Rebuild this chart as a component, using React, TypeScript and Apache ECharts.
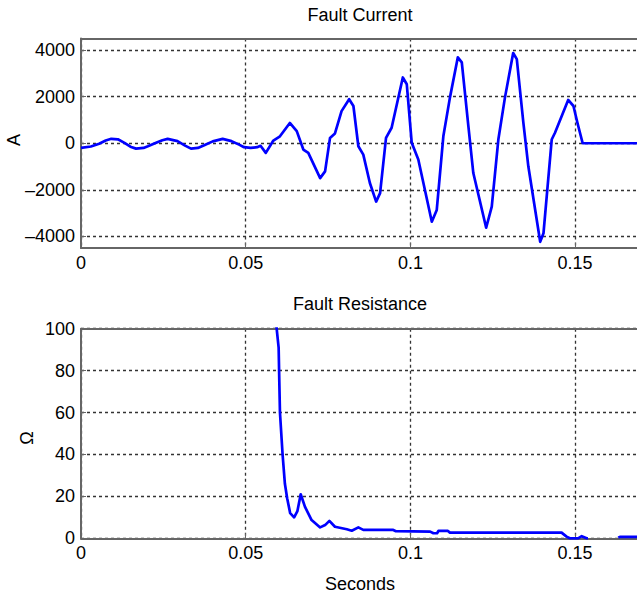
import React, { useEffect, useRef } from 'react';
import * as echarts from 'echarts';

// Tick positions
const timeTicks = [0, 0.05, 0.1, 0.15];
const currentTicks = [-4000, -2000, 0, 2000, 4000];
const resistanceTicks = [0, 20, 40, 60, 80, 100];

// Fault current (A) over time (s)
const currentTime = [
  0.0, 0.003, 0.0055, 0.0075, 0.0092, 0.0112, 0.0132, 0.015, 0.0167, 0.019,
  0.0203, 0.0228, 0.0247, 0.0263, 0.0293, 0.0316, 0.0334, 0.0355, 0.0374, 0.04,
  0.043, 0.0457, 0.048, 0.0495, 0.0515, 0.0535, 0.0545, 0.0561, 0.0584, 0.0604,
  0.0634, 0.0655, 0.0675, 0.069, 0.0726, 0.0741, 0.0756, 0.0771, 0.0791, 0.0814,
  0.0827, 0.0842, 0.0857, 0.0877, 0.0896, 0.0908, 0.0926, 0.0943, 0.0977, 0.0989,
  0.1004, 0.1024, 0.1065, 0.108, 0.11, 0.112, 0.1144, 0.1156, 0.1176, 0.1191,
  0.123, 0.1247, 0.1267, 0.1287, 0.1312, 0.1323, 0.1343, 0.1358, 0.1394, 0.1404,
  0.1429, 0.1439, 0.1479, 0.1495, 0.1507, 0.1523, 0.17,
];
const currentAmps = [
  -200, -140, -20, 120, 190, 170, 17, -150, -230, -200,
  -130, 17, 130, 190, 90, -100, -230, -200, -90, 80,
  190, 90, -60, -170, -200, -170, -110, -415, 117, 300,
  870, 520, -270, -415, -1500, -1210, 230, 420, 1380, 1890,
  1600, -130, -490, -1710, -2505, -2140, 233, 665, 2825, 2535,
  17, -700, -3370, -2865, 300, 1960, 3690, 3475, 735, -1280,
  -3630, -2720, 160, 1960, 3875, 3615, 880, -990, -4235, -3870,
  160, 450, 1860, 1600, 880, 0, 0,
];

// Fault resistance (Ω) over time (s); null marks samples with no value
const resistanceTime = [
  0.0588, 0.0594, 0.06, 0.0602, 0.0604, 0.0612, 0.0619, 0.0626, 0.0635, 0.0647,
  0.0657, 0.0667, 0.068, 0.07, 0.0726, 0.0741, 0.0754, 0.0771, 0.0807, 0.0822,
  0.0842, 0.0857, 0.0948, 0.0956, 0.106, 0.107, 0.1081, 0.1085, 0.1114, 0.112,
  0.1459, 0.1474, 0.1484, 0.1509, 0.152, 0.1535, 0.1539, 0.154, 0.1631, 0.1636,
  0.17,
];
const resistanceOhms = [
  125, 100, 91, 75, 60, 40, 26, 19, 12, 10,
  13, 21, 15, 8.7, 5.2, 6.3, 8.3, 5.5, 4.3, 3.6,
  5.2, 4.0, 4.0, 3.4, 3.2, 2.4, 2.4, 3.5, 3.5, 2.7,
  2.7, 0.8, 0, 0, 1.0, 0, 0, null, 0.3, 0.7,
  0.7,
];

const FONT = '"Liberation Sans", Arial, Helvetica, sans-serif';
const FONT_SIZE = 18;
const FRAME = '#666666';
const GRIDLINE = '#333333';
const TRACE = '#0000ff';

const fmtNum = (v: number) => {
  const r = +v.toFixed(4);
  return r < 0 ? '\u2013' + Math.abs(r) : String(r);
};

const pairs = (xs: number[], ys: (number | null)[]) => xs.map((x, i) => [x, ys[i]]);

export default function App() {
  const ref = useRef<HTMLDivElement>(null);

  useEffect(() => {
    if (!ref.current) return;
    const chart = echarts.init(ref.current, undefined, { renderer: 'svg' });

    const frameLine = { show: true, onZero: false, lineStyle: { color: FRAME, width: 2 } };
    const dashed = { show: true, lineStyle: { color: GRIDLINE, width: 1.3, type: [3, 3] as number[] } };
    const label = { color: '#000', fontFamily: FONT, fontSize: FONT_SIZE };

    const xMain = (gridIndex: number) => ({
      type: 'value',
      gridIndex,
      min: 0,
      max: 0.2,
      axisLine: frameLine,
      axisTick: { show: true, inside: true, length: 5, customValues: timeTicks, lineStyle: { color: FRAME } },
      axisLabel: { ...label, margin: 6, customValues: timeTicks, formatter: (v: number) => fmtNum(v) },
      splitLine: dashed,
    });
    const xTop = (gridIndex: number) => ({
      type: 'value',
      gridIndex,
      position: 'top',
      min: 0,
      max: 0.2,
      axisLine: frameLine,
      axisTick: { show: false },
      axisLabel: { show: false },
      splitLine: { show: false },
    });

    const option = {
      animation: false,
      backgroundColor: '#ffffff',
      grid: [
        { left: 81, top: 38.5, width: 658.8, height: 209.5, outerBoundsMode: 'none', containLabel: false },
        { left: 81, top: 328.7, width: 658.8, height: 209.6, outerBoundsMode: 'none', containLabel: false },
      ],
      xAxis: [xMain(0), xTop(0), xMain(1), xTop(1)],
      yAxis: [
        {
          type: 'value',
          gridIndex: 0,
          min: -4500,
          max: 4500,
          axisLine: frameLine,
          axisTick: { show: true, inside: true, length: 5, customValues: currentTicks, lineStyle: { color: FRAME } },
          axisLabel: { ...label, margin: 6, customValues: currentTicks, formatter: (v: number) => fmtNum(v) },
          splitLine: dashed,
        },
        {
          type: 'value',
          gridIndex: 1,
          min: 0,
          max: 100,
          axisLine: frameLine,
          axisTick: { show: true, inside: true, length: 5, customValues: resistanceTicks, lineStyle: { color: FRAME } },
          axisLabel: { ...label, margin: 6, customValues: resistanceTicks, formatter: (v: number) => fmtNum(v) },
          splitLine: dashed,
        },
      ],
      series: [
        {
          type: 'line',
          xAxisIndex: 0,
          yAxisIndex: 0,
          data: pairs(currentTime, currentAmps),
          showSymbol: false,
          symbol: 'none',
          lineStyle: { color: TRACE, width: 2.7, join: 'round' },
          z: 3,
        },
        {
          type: 'line',
          xAxisIndex: 2,
          yAxisIndex: 1,
          data: pairs(resistanceTime, resistanceOhms),
          showSymbol: false,
          symbol: 'none',
          connectNulls: false,
          lineStyle: { color: TRACE, width: 2.7, join: 'round' },
          z: 3,
        },
      ],
      graphic: [
        {
          type: 'text', x: 360, y: 15,
          style: { text: 'Fault Current', font: `${FONT_SIZE}px ${FONT}`, fill: '#000', textAlign: 'center', textVerticalAlign: 'middle' },
        },
        {
          type: 'text', x: 360, y: 304,
          style: { text: 'Fault Resistance', font: `${FONT_SIZE}px ${FONT}`, fill: '#000', textAlign: 'center', textVerticalAlign: 'middle' },
        },
        {
          type: 'text', x: 360, y: 584,
          style: { text: 'Seconds', font: `${FONT_SIZE}px ${FONT}`, fill: '#000', textAlign: 'center', textVerticalAlign: 'middle' },
        },
        {
          type: 'text', x: 14, y: 140, rotation: Math.PI / 2,
          style: { text: 'A', font: `${FONT_SIZE}px ${FONT}`, fill: '#000', textAlign: 'center', textVerticalAlign: 'middle' },
        },
        {
          type: 'text', x: 27, y: 438, rotation: Math.PI / 2,
          style: { text: 'Ω', font: `${FONT_SIZE}px ${FONT}`, fill: '#000', textAlign: 'center', textVerticalAlign: 'middle' },
        },
      ],
    };

    chart.setOption(option as any);
    return () => chart.dispose();
  }, []);

  return (
    <div
      ref={ref}
      style={{ position: 'fixed', left: 0, top: 0, width: 637, height: 599, background: '#fff' }}
    />
  );
}
